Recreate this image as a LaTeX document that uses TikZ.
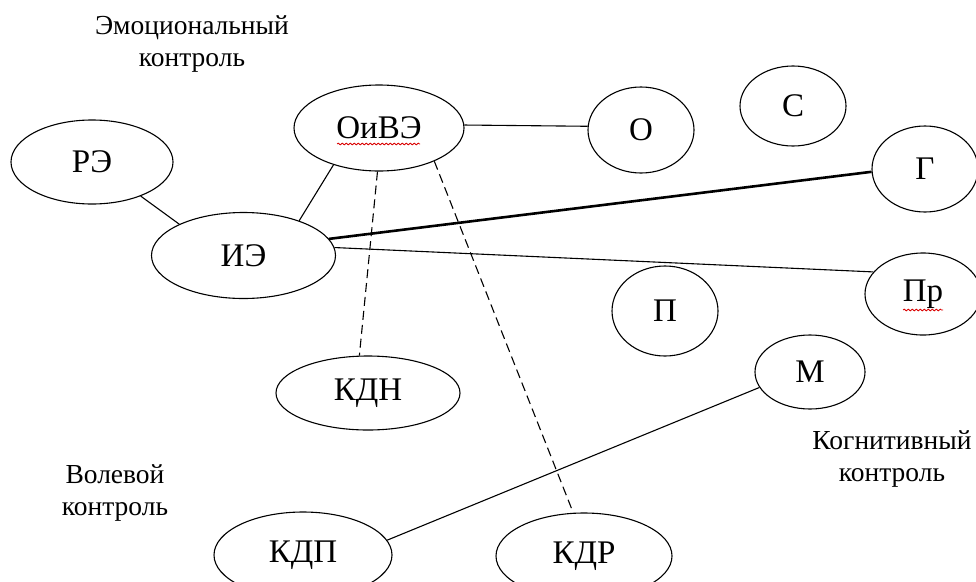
\documentclass[tikz,border=0pt]{standalone}
\usepackage{fontspec}
\setmainfont{Liberation Serif}
\usetikzlibrary{shapes.geometric,decorations.pathmorphing}
\begin{document}
\begin{tikzpicture}[x=1pt,y=-1pt,
  ov/.style={draw, ellipse, inner sep=0pt, line width=1.1pt,
    font=\fontsize{33}{33}\selectfont},
  captxt/.style={align=center, inner sep=0pt,
    font=\fontsize{27.5}{32}\selectfont},
  thinln/.style={line width=1.1pt},
  thickln/.style={line width=2.6pt},
  dshln/.style={line width=1.1pt, dash pattern=on 9pt off 5pt},
  wavy/.style={draw=red!85!black, line width=0.8pt, decorate,
    decoration={snake, amplitude=0.9pt, segment length=4pt}}]
\useasboundingbox (0,0) rectangle (976,581);

\node[ov, minimum width=170pt, minimum height=86pt] (oive) at (379,128) {ОиВЭ};
\node[ov, minimum width=106pt, minimum height=86pt] (o) at (641,130) {О};
\node[ov, minimum width=106pt, minimum height=80pt] (s) at (793,106) {С};
\node[ov, minimum width=162pt, minimum height=84pt] (re) at (92,162) {РЭ};
\node[ov, minimum width=184pt, minimum height=86pt] (ie) at (243.5,255.5) {ИЭ};
\node[ov, minimum width=106pt, minimum height=86pt] (g) at (925,169) {Г};
\node[ov, minimum width=116pt, minimum height=82pt] (pr) at (923,294) {Пр};
\node[ov, minimum width=106pt, minimum height=90pt] (p) at (665,311) {П};
\node[ov, minimum width=110pt, minimum height=74pt] (m) at (810,372) {М};
\node[ov, minimum width=184pt, minimum height=74pt] (kdn) at (368,393) {КДН};
\node[ov, minimum width=178pt, minimum height=86pt] (kdp) at (303,555) {КДП};
\node[ov, minimum width=176pt, minimum height=86pt] (kdr) at (584,556) {КДР};

\node[captxt] (emo) at (192,44.5) {Эмоциональный\\контроль};
\node[captxt] (vol) at (115,493) {Волевой\\контроль};
\node[captxt] (kog) at (892,459.5) {Когнитивный\\контроль};

\draw[thinln] (oive.2) -- (o.176);
\draw[thinln] (oive.219) -- (ie.32);
\draw[thinln] (re.325) -- (ie.154);
\draw[thickln] (ie.11) -- (g.183);
\draw[thinln] (ie.5) -- (pr.156);
\draw[dshln] (oive.268) -- (kdn.103);
\draw[dshln] (oive.329) -- (kdr.104);
\draw[thinln] (m.197) -- (kdp.10);

\draw[wavy] ([xshift=-42pt,yshift=-16pt]oive.center) -- ([xshift=41pt,yshift=-16pt]oive.center);
\draw[wavy] ([xshift=-20pt,yshift=-16pt]pr.center) -- ([xshift=20pt,yshift=-16pt]pr.center);
\end{tikzpicture}
\end{document}
